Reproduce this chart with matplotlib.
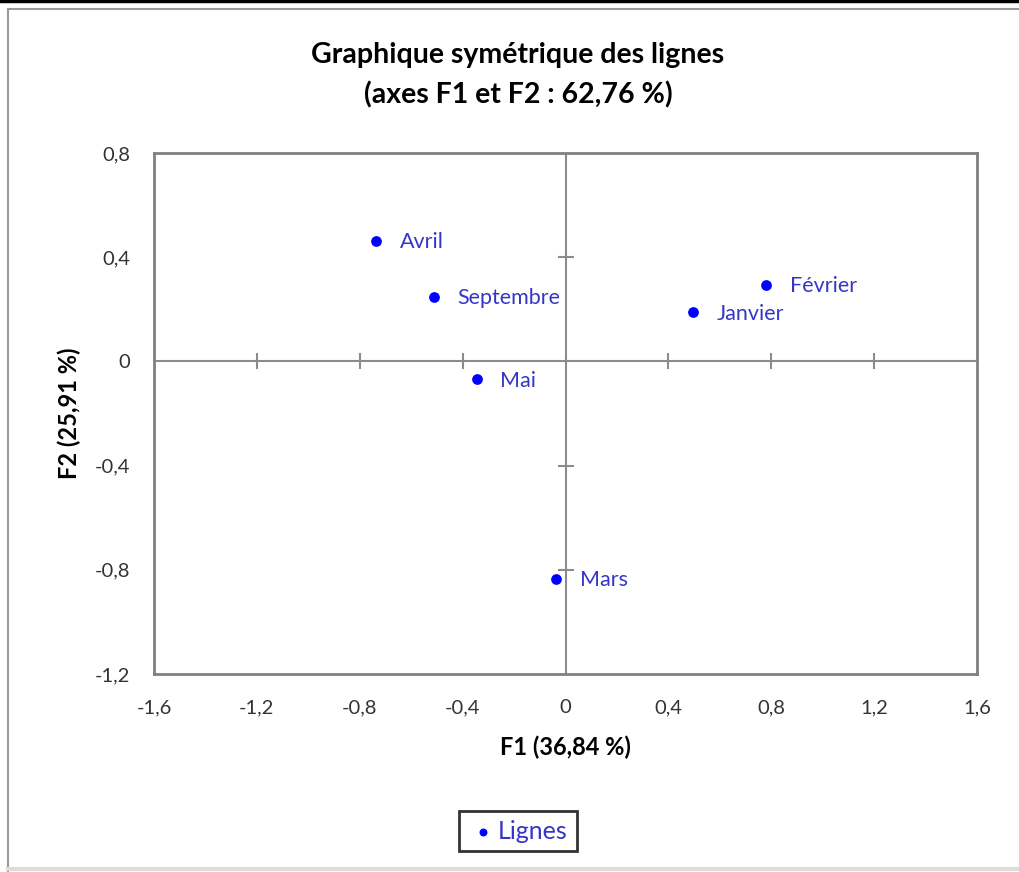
import matplotlib.pyplot as plt
from matplotlib.lines import Line2D

# coordonnées des lignes (mois) sur F1 / F2
months = ['Janvier', 'Février', 'Mars', 'Avril', 'Mai', 'Septembre']
f1 = [0.497, 0.780, -0.037, -0.737, -0.345, -0.511]
f2 = [0.188, 0.293, -0.835, 0.462, -0.068, 0.248]

xticks = [-1.6, -1.2, -0.8, -0.4, 0, 0.4, 0.8, 1.2, 1.6]
yticks = [-1.2, -0.8, -0.4, 0, 0.4, 0.8]

plt.rcParams['font.family'] = ['Lato', 'DejaVu Sans']

def fr(v):
    return ('%g' % v).replace('.', ',')

fig = plt.figure(figsize=(10.19, 8.72), dpi=100)
W, H = 1019, 872
ax = fig.add_axes([154 / W, 1 - 674 / H, 823 / W, 521 / H])

ax.set_xlim(-1.6, 1.6)
ax.set_ylim(-1.2, 0.8)
ax.set_xticks(xticks)
ax.set_yticks(yticks)
ax.set_xticklabels([fr(v) for v in xticks])
ax.set_yticklabels([fr(v) for v in yticks])
ax.tick_params(length=0, labelsize=14.5, labelcolor='#333333')
ax.tick_params(axis='x', pad=18)
ax.tick_params(axis='y', pad=17)
for s in ax.spines.values():
    s.set_color('#808080')
    s.set_linewidth(2)

# axes centraux avec graduations
grey = '#8c8c8c'
ax.axhline(0, color=grey, lw=1.5, zorder=1)
ax.axvline(0, color=grey, lw=1.5, zorder=1)
inner_x = [v for v in xticks if v not in (0, -1.6, 1.6)]
inner_y = [v for v in yticks if v not in (0, -1.2, 0.8)]
ax.plot(inner_x, [0] * len(inner_x), ls='none', marker='|', ms=12, mew=1.5, color=grey, zorder=1)
ax.plot([0] * len(inner_y), inner_y, ls='none', marker='_', ms=12, mew=1.5, color=grey, zorder=1)

ax.scatter(f1, f2, s=45, color='#0000ff', zorder=3, label='Lignes')
for m, x, y in zip(months, f1, f2):
    ax.annotate(m, (x, y), xytext=(17, -1), textcoords='offset points',
                va='center', ha='left', fontsize=15.5, color='#3535c8')

ax.set_xlabel('F1 (36,84 %)', fontsize=17, fontweight='bold', labelpad=14)
ax.set_ylabel('F2 (25,91 %)', fontsize=17, fontweight='bold', labelpad=10)

fig.text(518 / W, 1 - 55 / H, 'Graphique symétrique des lignes', ha='center', va='center',
         fontsize=20.5, fontweight='bold')
fig.text(518 / W, 1 - 95 / H, '(axes F1 et F2 : 62,76 %)', ha='center', va='center',
         fontsize=20.5, fontweight='bold')

leg = fig.legend(loc='center', bbox_to_anchor=(518 / W, 1 - 831 / H), fontsize=18,
                 frameon=True, fancybox=False, edgecolor='black', handletextpad=0.0,
                 handlelength=1.2, markerscale=0.7, borderpad=0.35, borderaxespad=0,
                 labelcolor='#3535c8')
leg.get_frame().set_linewidth(2)

# cadre de la figure
fig.add_artist(Line2D([0, 1], [1 - 1 / H, 1 - 1 / H], color='black', lw=2.5))
fig.add_artist(Line2D([7.5 / W, 1], [1 - 9.5 / H, 1 - 9.5 / H], color='#999999', lw=1.5))
fig.add_artist(Line2D([7.5 / W, 7.5 / W], [0, 1 - 9.5 / H], color='#999999', lw=1.5))
fig.add_artist(Line2D([7.5 / W, 1], [3 / H, 3 / H], color='#dddddd', lw=3))

fig.savefig('out.png', dpi=100)
